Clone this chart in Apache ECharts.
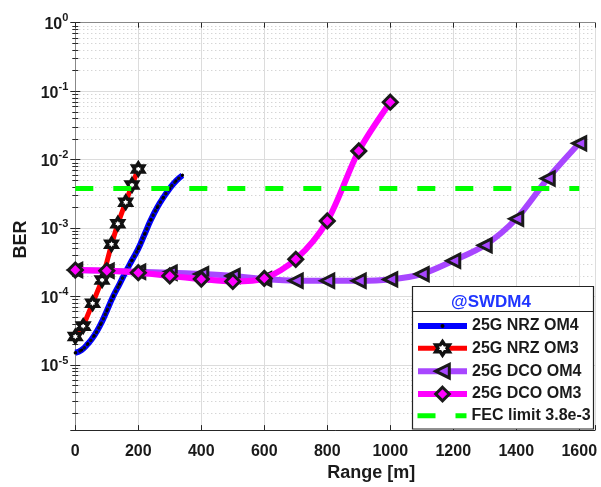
<!DOCTYPE html>
<html><head><meta charset="utf-8">
<script src="https://cdn.jsdelivr.net/npm/echarts@6/dist/echarts.min.js"></script>
<style>html,body{margin:0;padding:0;background:#fff}#c{width:601px;height:487px}</style>
</head><body><div id="c"></div>
<script>
// ---- data ----
const nrzOm4X = [0,20,40,60,80,100,120,140,160,180,200,220,240,260,280,300,320,340];
const nrzOm4Y = [1.51e-5,1.66e-5,2.04e-5,2.69e-5,3.89e-5,6.17e-5,1.0e-4,1.51e-4,2.29e-4,3.39e-4,5.01e-4,8.13e-4,1.32e-3,2.0e-3,2.82e-3,3.8e-3,4.9e-3,5.9e-3];
const nrzOm3X = [0,25,55,85,115,135,160,180,200];
const nrzOm3Y = [2.6e-5,3.7e-5,8.0e-5,1.74e-4,5.8e-4,1.16e-3,2.39e-3,4.26e-3,7.3e-3];
const dcoOm4X = [0,100,200,300,400,500,600,700,800,900,1000,1100,1200,1300,1400,1500,1600];
const dcoOm4Y = [2.44e-4,2.38e-4,2.3e-4,2.23e-4,2.13e-4,2.0e-4,1.8e-4,1.7e-4,1.7e-4,1.7e-4,1.78e-4,2.13e-4,3.33e-4,5.6e-4,1.37e-3,5.3e-3,1.73e-2];
const dcoOm3X = [0,100,200,300,400,500,600,700,800,900,1000];
const dcoOm3Y = [2.44e-4,2.38e-4,2.23e-4,2.0e-4,1.8e-4,1.66e-4,1.84e-4,3.5e-4,1.27e-3,1.34e-2,6.9e-2];
const fecX = [0,1600];
const fecY = [3.8e-3,3.8e-3];
const xTicks = [0,200,400,600,800,1000,1200,1400,1600];
const names = ['25G NRZ OM4','25G NRZ OM3','25G DCO OM4','25G DCO OM3','FEC limit 3.8e-3'];
const legendTitle = '@SWDM4';

const pairs = (xs, ys) => xs.map((x, i) => [x, ys[i]]);
const FF = 'Liberation Sans, Arial, sans-serif';
const hexagram = 'path://M0,-10L2.887,-5L8.66,-5L5.774,0L8.66,5L2.887,5L0,10L-2.887,5L-8.66,5L-5.774,0L-8.66,-5L-2.887,-5Z';
const axisColor = '#262626';
const txt = {fontFamily: FF, fontWeight: 'bold', color: '#1a1a1a'};
const legendBase = {
  orient: 'vertical', left: 415, padding: 0, itemWidth: 49, selectedMode: false, z: 6,
  lineStyle: {width: 'inherit'}, itemStyle: {borderWidth: 'inherit'},
  textStyle: Object.assign({fontSize: 16, lineHeight: 17}, txt)
};

const chart = echarts.init(document.getElementById('c'), null, {renderer: 'canvas'});
chart.setOption({
  animation: false,
  backgroundColor: '#fff',
  grid: {left: 75.3, right: 6, top: 22.7, bottom: 54.3, containLabel: false},
  xAxis: [{
    type: 'value', min: 0, max: 1650, interval: 200,
    axisLine: {show: true, lineStyle: {color: axisColor}},
    axisTick: {show: true, inside: true, length: 5, lineStyle: {color: axisColor}},
    axisLabel: Object.assign({fontSize: 16, margin: 13,
      formatter: v => xTicks.indexOf(v) >= 0 ? String(v) : ''}, txt),
    splitLine: {show: true, lineStyle: {color: '#dcdcdc', width: 1}},
    name: 'Range [m]', nameLocation: 'middle', nameGap: 29,
    nameTextStyle: Object.assign({fontSize: 18, padding: [0, 0, 0, 72]}, txt)
  }, {
    type: 'value', position: 'top', min: 0, max: 1650, interval: 200,
    axisLine: {show: true, lineStyle: {color: '#888'}},
    axisTick: {show: true, inside: true, length: 5, lineStyle: {color: axisColor}},
    axisLabel: {show: false}, splitLine: {show: false}
  }],
  yAxis: [{
    type: 'log', logBase: 10, min: 1.12e-6, max: 1,
    axisLine: {show: true, lineStyle: {color: axisColor}},
    axisTick: {show: true, inside: true, length: 5, lineStyle: {color: axisColor}},
    minorTick: {show: true, splitNumber: 9, length: 3, lineStyle: {color: axisColor}},
    splitLine: {show: true, lineStyle: {color: '#dcdcdc', width: 1}},
    minorSplitLine: {show: true, lineStyle: {color: '#c4c4c4', width: 1, type: [1, 3]}},
    axisLabel: {
      margin: 7,
      formatter: v => {
        const e = Math.log10(v);
        if (Math.abs(e - Math.round(e)) > 1e-6) return '';
        return '{b|10}{s|' + Math.round(e) + '}';
      },
      rich: {
        b: Object.assign({fontSize: 16, verticalAlign: 'bottom', lineHeight: 20}, txt),
        s: Object.assign({fontSize: 11, verticalAlign: 'top', lineHeight: 20}, txt)
      }
    },
    name: 'BER', nameLocation: 'middle', nameGap: 44,
    nameTextStyle: Object.assign({fontSize: 18, padding: [0, 26, 0, 0]}, txt)
  }, {
    type: 'log', logBase: 10, min: 1.12e-6, max: 1, position: 'right',
    axisLine: {show: true, lineStyle: {color: '#888'}},
    axisTick: {show: true, inside: true, length: 5, lineStyle: {color: axisColor}},
    minorTick: {show: true, splitNumber: 9, length: 3, lineStyle: {color: axisColor}},
    axisLabel: {show: false}, splitLine: {show: false}, minorSplitLine: {show: false}
  }],
  legend: [
    Object.assign({}, legendBase, {data: [names[0]], top: 317.5, itemHeight: 5, itemGap: 6}),
    Object.assign({}, legendBase, {data: [names[1], names[2], names[3]], top: 339.8, itemHeight: 17, itemGap: 5.85}),
    Object.assign({}, legendBase, {data: [names[4]], top: 407.2, itemHeight: 17, itemGap: 6})
  ],
  graphic: [
    {type: 'rect', z: 5, shape: {x: 412.5, y: 286.5, width: 181, height: 142.5},
     style: {fill: '#fff', stroke: '#222', lineWidth: 1.2}},
    {type: 'line', z: 5, shape: {x1: 412.5, y1: 311.5, x2: 593.5, y2: 311.5},
     style: {stroke: '#222', lineWidth: 1.2}},
    {type: 'text', z: 5, style: {text: legendTitle, x: 491, y: 302, align: 'center', verticalAlign: 'middle',
     font: 'bold 17px ' + FF, fill: '#1f35ff'}}
  ],
  series: [{
    name: names[0], type: 'line', data: pairs(nrzOm4X, nrzOm4Y), smooth: true,
    symbol: 'circle', symbolSize: 3, itemStyle: {color: '#000'},
    lineStyle: {color: '#0000ff', width: 6}, z: 2
  }, {
    name: '_dots', type: 'line', data: pairs(nrzOm4X, nrzOm4Y), smooth: true,
    symbol: 'none', lineStyle: {color: '#111', width: 3.2, type: [0.5, 4.5], cap: 'round'}, z: 2
  }, {
    name: names[1], type: 'line', data: pairs(nrzOm3X, nrzOm3Y),
    symbol: hexagram, symbolSize: [11, 12],
    itemStyle: {color: '#fff', borderColor: '#111', borderWidth: 3.4},
    lineStyle: {color: '#ff0000', width: 5}, z: 3
  }, {
    name: names[2], type: 'line', data: pairs(dcoOm4X, dcoOm4Y), smooth: 0.3,
    symbol: 'triangle', symbolRotate: 90, symbolSize: 13,
    itemStyle: {color: '#a846ff', borderColor: '#1a1a1a', borderWidth: 3},
    lineStyle: {color: '#a846ff', width: 6}, z: 3
  }, {
    name: names[3], type: 'line', data: pairs(dcoOm3X, dcoOm3Y), smooth: 0.3,
    symbol: 'diamond', symbolSize: 14,
    itemStyle: {color: '#ff00ff', borderColor: '#1a1a1a', borderWidth: 3},
    lineStyle: {color: '#ff00ff', width: 6}, z: 4
  }, {
    name: names[4], type: 'line', data: pairs(fecX, fecY),
    symbol: 'none', itemStyle: {color: 'rgba(0,0,0,0)'},
    lineStyle: {color: '#00ff00', width: 5, type: [18, 20]}, z: 4
  }]
});
</script></body></html>
